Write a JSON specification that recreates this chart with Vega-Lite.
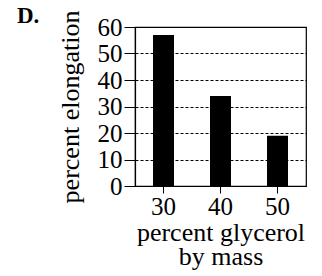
{
  "$schema": "https://vega.github.io/schema/vega-lite/v6.json",
  "autosize": "none",
  "width": 171,
  "height": 159,
  "padding": {"left": 135, "top": 27, "right": 16, "bottom": 90},
  "background": "white",
  "config": {
    "font": "Liberation Serif",
    "view": {"stroke": "black", "strokeWidth": 1.2},
    "axis": {
      "labelFont": "Liberation Serif",
      "titleFont": "Liberation Serif",
      "labelColor": "black",
      "titleColor": "black",
      "domainColor": "black",
      "tickColor": "black",
      "labelFontSize": 25,
      "titleFontSize": 26,
      "titleFontWeight": "normal"
    }
  },
  "title": {
    "text": "D.",
    "font": "Liberation Serif",
    "fontSize": 23,
    "fontWeight": "bold",
    "color": "black",
    "anchor": "start",
    "frame": "group",
    "dx": -118,
    "dy": 18,
    "offset": 0
  },
  "data": {
    "values": [
      {"glycerol": "30", "elongation": 57},
      {"glycerol": "40", "elongation": 34},
      {"glycerol": "50", "elongation": 19}
    ]
  },
  "mark": {"type": "bar", "color": "black", "size": 21},
  "encoding": {
    "x": {
      "field": "glycerol",
      "type": "ordinal",
      "sort": null,
      "scale": {"paddingInner": 0, "paddingOuter": 0},
      "axis": {
        "title": ["percent glycerol", "by mass"],
        "labelAngle": 0,
        "tickSize": 7,
        "labelPadding": 1,
        "titlePadding": 0,
        "titleLineHeight": 24,
        "domainWidth": 1.2
      }
    },
    "y": {
      "field": "elongation",
      "type": "quantitative",
      "scale": {"domain": [0, 60], "nice": false},
      "axis": {
        "title": "percent elongation",
        "values": [0, 10, 20, 30, 40, 50, 60],
        "tickSize": 11,
        "labelPadding": 2,
        "titlePadding": 14,
        "grid": true,
        "gridColor": "black",
        "gridDash": [3, 2],
        "gridWidth": 1,
        "gridOpacity": 1,
        "domainWidth": 1.2
      }
    }
  }
}
